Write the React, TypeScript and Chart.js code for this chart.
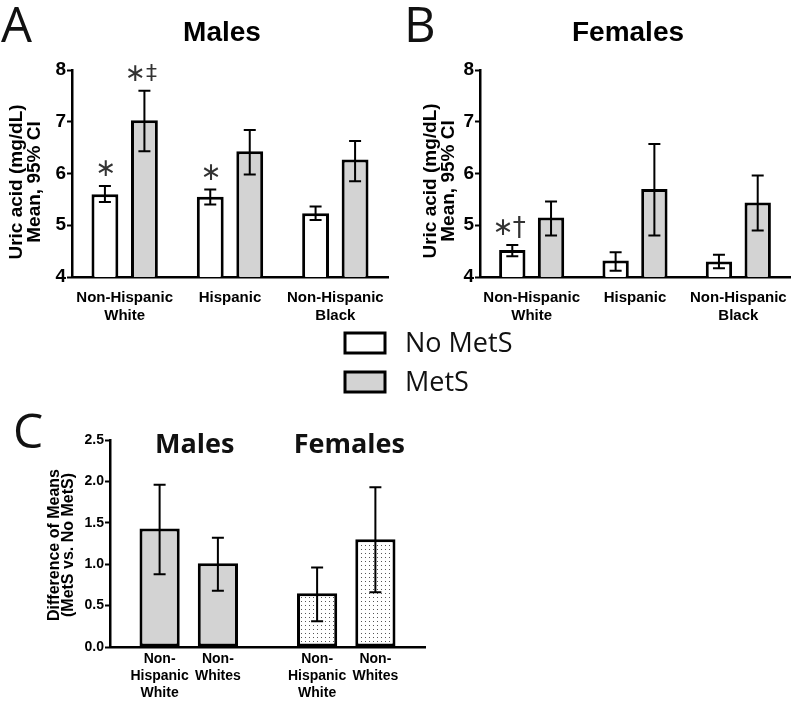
import React, { useEffect, useRef } from 'react';
import { Chart, registerables } from 'chart.js';

Chart.register(...registerables);

// ---------- data ----------
const groups = [['Non-Hispanic', 'White'], 'Hispanic', ['Non-Hispanic', 'Black']];
const seriesNames = ['No MetS', 'MetS'];
const uricTicks = [4, 5, 6, 7, 8];

const malesNoMetS = [5.6, 5.55, 5.23];
const malesNoMetSLow = [5.45, 5.4, 5.1];
const malesNoMetSHigh = [5.76, 5.69, 5.36];
const malesMetS = [7.03, 6.43, 6.27];
const malesMetSLow = [6.43, 5.98, 5.85];
const malesMetSHigh = [7.6, 6.84, 6.63];
const malesMarksNoMetS = ['∗', '∗', ''];
const malesMarksMetS = ['∗‡', '', ''];

const femalesNoMetS = [4.52, 4.32, 4.3];
const femalesNoMetSLow = [4.4, 4.12, 4.17];
const femalesNoMetSHigh = [4.62, 4.48, 4.43];
const femalesMetS = [5.15, 5.7, 5.44];
const femalesMetSLow = [4.8, 4.8, 4.9];
const femalesMetSHigh = [5.46, 6.57, 5.96];
const femalesMarksNoMetS = ['∗†', '', ''];
const femalesMarksMetS = ['', '', ''];

const diffSexes = ['Males', 'Females'];
const diffGroupLabels = [['Non-', 'Hispanic', 'White'], ['Non-', 'Whites']];
const diffTicks = [0, 0.5, 1, 1.5, 2, 2.5];
const diffNHW = [1.43, 0.65];
const diffNHWLow = [0.88, 0.31];
const diffNHWHigh = [1.96, 0.96];
const diffNW = [1.01, 1.3];
const diffNWLow = [0.68, 0.66];
const diffNWHigh = [1.32, 1.93];

// ---------- styles ----------
const SANS = '"Liberation Sans", Arial, Helvetica, sans-serif';
const MYRIAD = '"Open Sans", "Noto Sans", sans-serif';
const SYM = '"DejaVu Sans", sans-serif';
const GRAY = '#d3d3d3';

function errorBars(lows: number[][], highs: number[][], cap: number) {
  return {
    id: 'errorBars',
    afterDatasetsDraw(chart: any) {
      const ctx = chart.ctx;
      const ys = chart.scales.y;
      lows.forEach((low, s) => {
        const meta = chart.getDatasetMeta(s);
        meta.data.forEach((el: any, j: number) => {
          const x = el.x;
          const y1 = ys.getPixelForValue(low[j]);
          const y2 = ys.getPixelForValue(highs[s][j]);
          ctx.save();
          ctx.strokeStyle = '#000';
          ctx.lineWidth = 2;
          ctx.beginPath();
          ctx.moveTo(x, y1);
          ctx.lineTo(x, y2);
          ctx.moveTo(x - cap, y1);
          ctx.lineTo(x + cap, y1);
          ctx.moveTo(x - cap, y2);
          ctx.lineTo(x + cap, y2);
          ctx.stroke();
          ctx.restore();
        });
      });
    },
  };
}

function overlay(draw: (chart: any, ctx: CanvasRenderingContext2D) => void) {
  return {
    id: 'overlay',
    afterDraw(chart: any) {
      const ctx = chart.ctx as CanvasRenderingContext2D;
      ctx.save();
      draw(chart, ctx);
      ctx.restore();
    },
  };
}

function text(ctx: CanvasRenderingContext2D, t: string, x: number, y: number, font: string, align: CanvasTextAlign = 'center', baseline: CanvasTextBaseline = 'middle', color = '#000') {
  ctx.save();
  ctx.font = font;
  ctx.fillStyle = color;
  ctx.textAlign = align;
  ctx.textBaseline = baseline;
  ctx.fillText(t, x, y);
  ctx.restore();
}

function vText(ctx: CanvasRenderingContext2D, t: string, x: number, y: number, font: string) {
  ctx.save();
  ctx.translate(x, y);
  ctx.rotate(-Math.PI / 2);
  ctx.font = font;
  ctx.fillStyle = '#000';
  ctx.textAlign = 'center';
  ctx.textBaseline = 'middle';
  ctx.fillText(t, 0, 0);
  ctx.restore();
}

function drawMarks(chart: any, marks: string[][], highs: number[][]) {
  const ctx = chart.ctx as CanvasRenderingContext2D;
  const ys = chart.scales.y;
  marks.forEach((row, s) => {
    row.forEach((txt, j) => {
      if (!txt) return;
      const el = chart.getDatasetMeta(s).data[j];
      const y = ys.getPixelForValue(highs[s][j]) - 16;
      const chars = Array.from(txt);
      chars.forEach((c, k) => {
        const dx = chars.length === 1 ? 1 : k === 0 ? -9 : 7;
        const size = c === '∗' ? 25 : c === '‡' ? 22 : 26;
        text(ctx, c, el.x + dx, y, `${size}px ${SYM}`, 'center', 'middle', '#333');
      });
    });
  });
}

function uricConfig(
  noMetS: number[], metS: number[],
  lows: number[][], highs: number[][], marks: string[][],
  yAxisWidth: number, rightPad: number,
  drawExtra: (chart: any, ctx: CanvasRenderingContext2D) => void,
) {
  return {
    type: 'bar',
    data: {
      labels: groups,
      datasets: [
        { label: seriesNames[0], data: noMetS, backgroundColor: '#ffffff', borderColor: '#000', borderWidth: 3, borderSkipped: false },
        { label: seriesNames[1], data: metS, backgroundColor: GRAY, borderColor: '#000', borderWidth: 3, borderSkipped: false },
      ],
    },
    options: {
      responsive: false,
      animation: false,
      devicePixelRatio: 1,
      layout: { padding: { top: 70, right: rightPad, bottom: 0, left: 0 } },
      datasets: { bar: { categoryPercentage: 0.75, barPercentage: 0.68 } },
      plugins: { legend: { display: false }, tooltip: { enabled: false }, title: { display: false } },
      scales: {
        x: {
          grid: { display: false },
          border: { display: true, color: '#000', width: 2.5 },
          ticks: { color: '#000', font: { family: SANS, weight: 'bold', size: 15, lineHeight: 1.2 }, padding: 4, maxRotation: 0, autoSkip: false },
          afterFit: (s: any) => { s.height = 43; },
        },
        y: {
          min: uricTicks[0],
          max: uricTicks[uricTicks.length - 1],
          ticks: { stepSize: uricTicks[1] - uricTicks[0], color: '#000', font: { family: SANS, weight: 'bold', size: 19 }, padding: 1 },
          grid: { drawOnChartArea: false, drawTicks: true, tickLength: 5, tickWidth: 2, tickColor: '#000' },
          border: { display: true, color: '#000', width: 2.5 },
          afterFit: (s: any) => { s.width = yAxisWidth; },
        },
      },
    },
    plugins: [
      errorBars(lows, highs, 6),
      overlay((chart, ctx) => {
        drawMarks(chart, marks, highs);
        drawExtra(chart, ctx);
      }),
    ],
  };
}

export default function App() {
  const refA = useRef<HTMLCanvasElement>(null);
  const refB = useRef<HTMLCanvasElement>(null);
  const refC = useRef<HTMLCanvasElement>(null);

  useEffect(() => {
    const charts: Chart[] = [];

    const cfgA = uricConfig(
      malesNoMetS, malesMetS,
      [malesNoMetSLow, malesMetSLow], [malesNoMetSHigh, malesMetSHigh],
      [malesMarksNoMetS, malesMarksMetS],
      72, 12,
      (chart, ctx) => {
        text(ctx, 'A', 1, 42, `49px ${MYRIAD}`, 'left', 'alphabetic', '#111');
        text(ctx, 'Males', 222, 33, `bold 28px ${SANS}`);
        vText(ctx, 'Uric acid (mg/dL)', 17, 182, `bold 19px ${SANS}`);
        vText(ctx, 'Mean, 95% CI', 35, 182, `bold 19px ${SANS}`);
      },
    );
    const cfgB = uricConfig(
      femalesNoMetS, femalesMetS,
      [femalesNoMetSLow, femalesMetSLow], [femalesNoMetSHigh, femalesMetSHigh],
      [femalesMarksNoMetS, femalesMarksMetS],
      80, 10,
      (chart, ctx) => {
        text(ctx, 'B', 4, 42, `49px ${MYRIAD}`, 'left', 'alphabetic', '#111');
        text(ctx, 'Females', 228, 33, `bold 28px ${SANS}`);
        vText(ctx, 'Uric acid (mg/dL)', 31, 181, `bold 19px ${SANS}`);
        vText(ctx, 'Mean, 95% CI', 49, 181, `bold 19px ${SANS}`);
      },
    );

    // dotted pattern for females in panel C
    const pc = document.createElement('canvas');
    pc.width = 4;
    pc.height = 4;
    const pctx = pc.getContext('2d')!;
    pctx.fillStyle = '#ffffff';
    pctx.fillRect(0, 0, 4, 4);
    pctx.fillStyle = '#555555';
    pctx.fillRect(1, 1, 1, 1);
    const dots = pctx.createPattern(pc, 'repeat');
    const fills = [GRAY, dots];

    const cfgC = {
      type: 'bar',
      data: {
        labels: diffSexes,
        datasets: [
          { label: 'Non-Hispanic White', data: diffNHW, backgroundColor: fills, borderColor: '#000', borderWidth: 3, borderSkipped: false },
          { label: 'Non-Whites', data: diffNW, backgroundColor: fills, borderColor: '#000', borderWidth: 3, borderSkipped: false },
        ],
      },
      options: {
        responsive: false,
        animation: false,
        devicePixelRatio: 1,
        layout: { padding: { top: 120, right: 375, bottom: 59, left: 0 } },
        datasets: { bar: { categoryPercentage: 0.74, barPercentage: 0.69 } },
        plugins: { legend: { display: false }, tooltip: { enabled: false }, title: { display: false } },
        scales: {
          x: {
            grid: { display: false },
            border: { display: true, color: '#000', width: 2.5 },
            ticks: { display: false },
            afterFit: (s: any) => { s.height = 0; },
          },
          y: {
            min: diffTicks[0],
            max: diffTicks[diffTicks.length - 1],
            ticks: {
              stepSize: diffTicks[1] - diffTicks[0],
              color: '#000',
              font: { family: SANS, weight: 'bold', size: 14 },
              padding: 1,
              callback: (v: any) => Number(v).toFixed(1),
            },
            grid: { drawOnChartArea: false, drawTicks: true, tickLength: 5, tickWidth: 2, tickColor: '#000' },
            border: { display: true, color: '#000', width: 2.5 },
            afterFit: (s: any) => { s.width = 110; },
          },
        },
      },
      plugins: [
        errorBars([diffNHWLow, diffNWLow], [diffNHWHigh, diffNWHigh], 6),
        overlay((chart, ctx) => {
          // legend
          const legendFills = ['#ffffff', GRAY];
          seriesNames.forEach((name, i) => {
            const top = 13 + i * 39;
            ctx.fillStyle = legendFills[i];
            ctx.fillRect(345, top, 40, 20);
            ctx.strokeStyle = '#000';
            ctx.lineWidth = 3;
            ctx.strokeRect(345, top, 40, 20);
            text(ctx, name, 405, top + 11, `27px ${MYRIAD}`, 'left', 'middle', '#111');
          });
          // panel letter + titles
          text(ctx, 'C', 13, 128, `48px ${MYRIAD}`, 'left', 'alphabetic', '#111');
          const xs = chart.scales.x;
          text(ctx, diffSexes[0], xs.getPixelForValue(0) + 6, 125, `bold 27px ${MYRIAD}`, 'center', 'middle', '#111');
          text(ctx, diffSexes[1], xs.getPixelForValue(1) + 3, 125, `bold 27px ${MYRIAD}`, 'center', 'middle', '#111');
          // y title
          vText(ctx, 'Difference of Means', 55, 225, `bold 16px ${SANS}`);
          vText(ctx, '(MetS vs. No MetS)', 69, 225, `bold 16px ${SANS}`);
          // x labels under each bar
          const bottom = chart.chartArea.bottom;
          diffGroupLabels.forEach((lines, s) => {
            const meta = chart.getDatasetMeta(s);
            meta.data.forEach((el: any) => {
              lines.forEach((ln, k) => {
                text(ctx, ln, el.x, bottom + 12 + k * 17, `bold 14px ${SANS}`);
              });
            });
          });
        }),
      ],
    };

    charts.push(new Chart(refA.current!, cfgA as any));
    charts.push(new Chart(refB.current!, cfgB as any));
    charts.push(new Chart(refC.current!, cfgC as any));
    return () => charts.forEach((c) => c.destroy());
  }, []);

  return (
    <div style={{ position: 'absolute', left: 0, top: 0, width: 800, height: 706, background: '#fff' }}>
      <canvas ref={refA} width={400} height={320} style={{ position: 'absolute', left: 0, top: 0 }} />
      <canvas ref={refB} width={400} height={320} style={{ position: 'absolute', left: 400, top: 0 }} />
      <canvas ref={refC} width={800} height={386} style={{ position: 'absolute', left: 0, top: 320 }} />
    </div>
  );
}
